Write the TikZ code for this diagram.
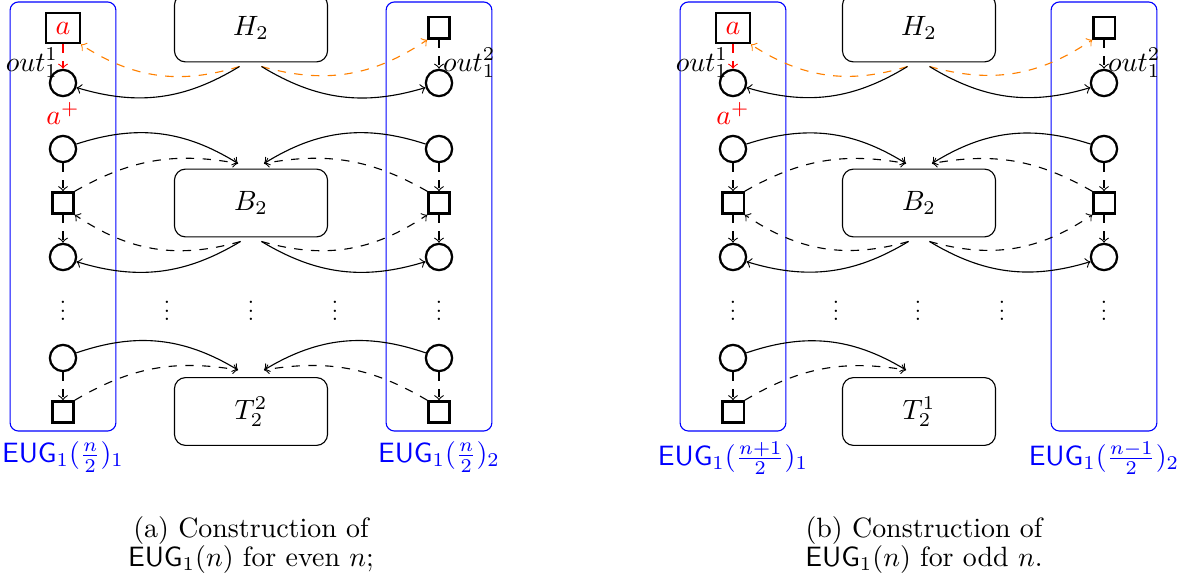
\documentclass[tikz,border=0pt]{standalone}
\usepackage{amsmath,amssymb}
\usepackage{graphicx}
\usetikzlibrary{calc}
\newcommand\eug{\mathsf{EUG}}
\newcommand\vdts{\scalebox{0.8}{$\vdots$}}

\begin{document}
\begin{tikzpicture}[->, >=to, x=0.358pt, y=0.358pt,
	cir/.style={circle, draw, thick, minimum size=9.4pt, inner sep=0pt},
	sq/.style={rectangle, draw, thick, minimum size=7.6pt},
	blk/.style={rectangle, draw, rounded corners=4pt, minimum width=54.8pt, minimum height=24.3pt},
	grp/.style={rectangle, draw=blue, rounded corners=3pt, minimum width=37.9pt, minimum height=153.6pt},
	grplbl/.style={text=blue},
	vd/.style={anchor=base, inner sep=0pt},
	lbl/.style={inner sep=0pt},
	captxt/.style={align=center, font=\fontsize{10}{10.5}\selectfont}]
	\useasboundingbox (0,0) rectangle (1194,585);

	% (a) even n
	\node[grp, label={[grplbl]below:$\eug_1(\frac{n}{2})_1$}]	(gLa)	at (63,368.5)	{};
	\node[grp, label={[grplbl]below:$\eug_1(\frac{n}{2})_2$}]	(gRa)	at (439,368.5)	{};
	\node[blk]	(H2a)	at (251,557)	{$H_2$};
	\node[blk]	(B2a)	at (251,382)	{$B_2$};
	\node[blk]	(T2a)	at (251,173.5)	{$T_2^2$};

	\node[sq, text=red]	(aLa)	at (63,557)	{$a$};
	\node[cir, label={[lbl, xshift=2pt, yshift=-2pt]above left:$out_1^1$}]	(oLa)	at (63,502)	{};
	\node[cir, label={[text=red]above:$a^+$}]	(pLa)	at (63,436)	{};
	\node[sq]	(sLa)	at (63,382)	{};
	\node[cir]	(qLa)	at (63,328)	{};
	\node[vd]	(dLa)	at (63,264)	{\vdts};
	\node[cir]	(rLa)	at (63,227)	{};
	\node[sq]	(tLa)	at (63,173)	{};

	\node[sq]	(aRa)	at (439,557)	{};
	\node[cir, label={[lbl, xshift=-2.3pt, yshift=-2pt]above right:$out_1^2$}]	(oRa)	at (439,502)	{};
	\node[cir]	(pRa)	at (439,436)	{};
	\node[sq]	(sRa)	at (439,382)	{};
	\node[cir]	(qRa)	at (439,328)	{};
	\node[vd]	(dRa)	at (439,264)	{\vdts};
	\node[cir]	(rRa)	at (439,227)	{};
	\node[sq]	(tRa)	at (439,173)	{};

	\node[vd]	(d1a)	at (167,264)	{\vdts};
	\node[vd]	(d2a)	at (251,264)	{\vdts};
	\node[vd]	(d3a)	at (335,264)	{\vdts};

	\coordinate (Ho1a) at ($(H2a.south)+(-11.5,-4)$);
	\coordinate (Ho2a) at ($(H2a.south)+(10.5,-4)$);
	\coordinate (Bi1a) at ($(B2a.north)+(-13,5)$);
	\coordinate (Bi2a) at ($(B2a.north)+(13,5)$);
	\coordinate (Bo1a) at ($(B2a.south)+(-10.5,-4)$);
	\coordinate (Bo2a) at ($(B2a.south)+(10.5,-4)$);
	\coordinate (Ti1a) at ($(T2a.north)+(-13,7)$);
	\coordinate (Ti2a) at ($(T2a.north)+(13,7)$);

	\path
	(aLa)	edge[red, dashed]	(oLa)
	(aRa)	edge[dashed]	(oRa)
	(Ho1a)	edge[orange, dashed, bend left=25]	(aLa.south east)
	(Ho2a)	edge[orange, dashed, bend right=25]	(aRa.south west)
	(Ho1a)	edge[bend left=24]	(oLa)
	(Ho2a)	edge[bend right=24]	(oRa)
	(pLa)	edge[bend left=25]	(Bi1a)
	(pRa)	edge[bend right=25]	(Bi2a)
	(pLa)	edge[dashed]	(sLa)
	(pRa)	edge[dashed]	(sRa)
	(sLa.north east)	edge[dashed, bend left=20]	(Bi1a)
	(sRa.north west)	edge[dashed, bend right=20]	(Bi2a)
	(Bo1a)	edge[dashed, bend left=25]	(sLa.south east)
	(Bo2a)	edge[dashed, bend right=25]	(sRa.south west)
	(sLa)	edge[dashed]	(qLa)
	(sRa)	edge[dashed]	(qRa)
	(Bo1a)	edge[bend left=24]	(qLa)
	(Bo2a)	edge[bend right=24]	(qRa)
	(rLa)	edge[bend left=25]	(Ti1a)
	(rRa)	edge[bend right=25]	(Ti2a)
	(rLa)	edge[dashed]	(tLa)
	(rRa)	edge[dashed]	(tRa)
	(tLa.north east)	edge[dashed, bend left=20]	(Ti1a)
	(tRa.north west)	edge[dashed, bend right=20]	(Ti2a);

	\node[captxt]	(capa)	at (251,40)	{(a) Construction of\\ $\eug_1(n)$ for even $n$;};

	% (b) odd n
	\node[grp, label={[grplbl]below:$\eug_1(\frac{n+1}{2})_1$}]	(gLb)	at (733,368.5)	{};
	\node[grp, label={[grplbl]below:$\eug_1(\frac{n-1}{2})_2$}]	(gRb)	at (1104,368.5)	{};
	\node[blk]	(H2b)	at (919,557)	{$H_2$};
	\node[blk]	(B2b)	at (919,382)	{$B_2$};
	\node[blk]	(T2b)	at (919,173.5)	{$T_2^1$};

	\node[sq, text=red]	(aLb)	at (733,557)	{$a$};
	\node[cir, label={[lbl, xshift=2pt, yshift=-2pt]above left:$out_1^1$}]	(oLb)	at (733,502)	{};
	\node[cir, label={[text=red]above:$a^+$}]	(pLb)	at (733,436)	{};
	\node[sq]	(sLb)	at (733,382)	{};
	\node[cir]	(qLb)	at (733,328)	{};
	\node[vd]	(dLb)	at (733,264)	{\vdts};
	\node[cir]	(rLb)	at (733,227)	{};
	\node[sq]	(tLb)	at (733,173)	{};

	\node[sq]	(aRb)	at (1104,557)	{};
	\node[cir, label={[lbl, xshift=-2.3pt, yshift=-2pt]above right:$out_1^2$}]	(oRb)	at (1104,502)	{};
	\node[cir]	(pRb)	at (1104,436)	{};
	\node[sq]	(sRb)	at (1104,382)	{};
	\node[cir]	(qRb)	at (1104,328)	{};
	\node[vd]	(dRb)	at (1104,264)	{\vdts};

	\node[vd]	(d1b)	at (836,264)	{\vdts};
	\node[vd]	(d2b)	at (918,264)	{\vdts};
	\node[vd]	(d3b)	at (1002,264)	{\vdts};

	\coordinate (Ho1b) at ($(H2b.south)+(-11.5,-4)$);
	\coordinate (Ho2b) at ($(H2b.south)+(10.5,-4)$);
	\coordinate (Bi1b) at ($(B2b.north)+(-13,5)$);
	\coordinate (Bi2b) at ($(B2b.north)+(13,5)$);
	\coordinate (Bo1b) at ($(B2b.south)+(-10.5,-4)$);
	\coordinate (Bo2b) at ($(B2b.south)+(10.5,-4)$);
	\coordinate (Ti1b) at ($(T2b.north)+(-13,7)$);

	\path
	(aLb)	edge[red, dashed]	(oLb)
	(aRb)	edge[dashed]	(oRb)
	(Ho1b)	edge[orange, dashed, bend left=25]	(aLb.south east)
	(Ho2b)	edge[orange, dashed, bend right=25]	(aRb.south west)
	(Ho1b)	edge[bend left=24]	(oLb)
	(Ho2b)	edge[bend right=24]	(oRb)
	(pLb)	edge[bend left=25]	(Bi1b)
	(pRb)	edge[bend right=25]	(Bi2b)
	(pLb)	edge[dashed]	(sLb)
	(pRb)	edge[dashed]	(sRb)
	(sLb.north east)	edge[dashed, bend left=20]	(Bi1b)
	(sRb.north west)	edge[dashed, bend right=20]	(Bi2b)
	(Bo1b)	edge[dashed, bend left=25]	(sLb.south east)
	(Bo2b)	edge[dashed, bend right=25]	(sRb.south west)
	(sLb)	edge[dashed]	(qLb)
	(sRb)	edge[dashed]	(qRb)
	(Bo1b)	edge[bend left=24]	(qLb)
	(Bo2b)	edge[bend right=24]	(qRb)
	(rLb)	edge[bend left=25]	(Ti1b)
	(rLb)	edge[dashed]	(tLb)
	(tLb.north east)	edge[dashed, bend left=20]	(Ti1b);

	\node[captxt]	(capb)	at (924,40)	{(b) Construction of\\ $\eug_1(n)$ for odd $n$.};
\end{tikzpicture}
\end{document}
